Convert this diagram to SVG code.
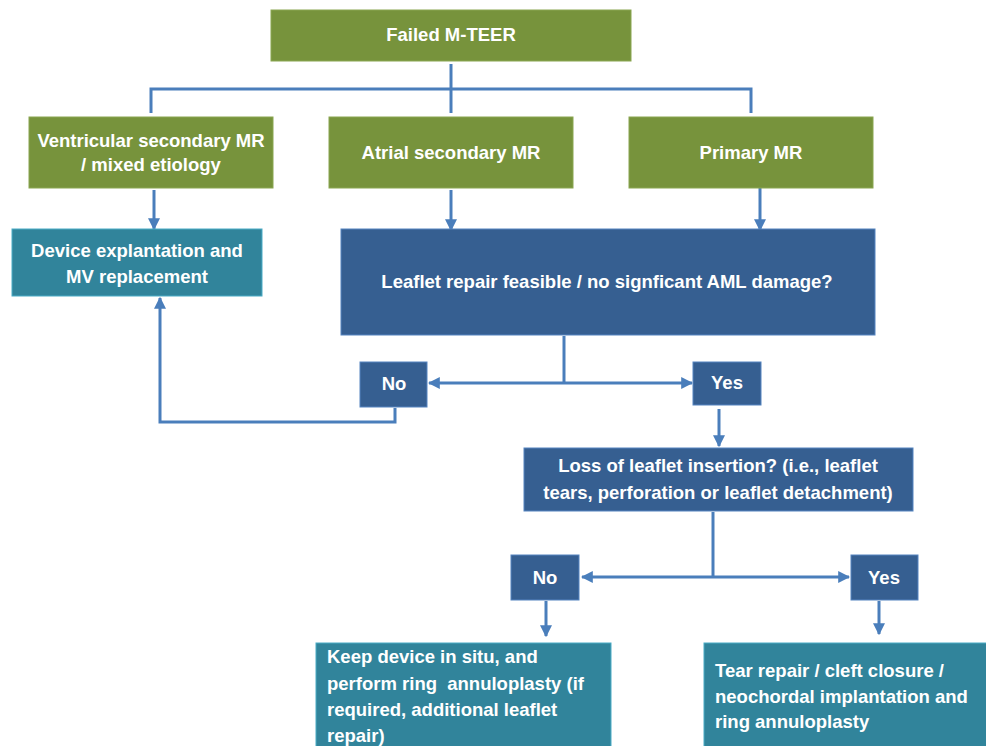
<svg xmlns="http://www.w3.org/2000/svg" width="986" height="746" viewBox="0 0 986 746">
<defs>
<marker id="ah" viewBox="0 0 10 10" refX="9" refY="5" markerWidth="4" markerHeight="4" orient="auto" markerUnits="strokeWidth">
<path d="M0,0 L10,5 L0,10 z" fill="#4A7EBB"/>
</marker>
<style>
.g{fill:#77933C;stroke:#8AA650;stroke-width:1}
.b{fill:#365F91;stroke:#5584C0;stroke-width:1}
.t{fill:#31849B;stroke:#4BACC6;stroke-width:1}
text{font-family:"Liberation Sans",Arial,sans-serif;font-weight:bold;font-size:18.5px;fill:#FFFFFF}
.c{text-anchor:middle}
.ln{fill:none;stroke:#4A7EBB;stroke-width:3}
.la{fill:none;stroke:#4A7EBB;stroke-width:3;marker-end:url(#ah)}
</style>
</defs>
<rect width="986" height="746" fill="#FFFFFF"/>
<g id="connectors">
<path class="ln" d="M451,64 V113"/>
<path class="ln" d="M151,113 V89 H751 V113"/>
<path class="la" d="M154,190 V229"/>
<path class="la" d="M451,190 V230"/>
<path class="la" d="M760,188 V230"/>
<path class="ln" d="M564,336 V383"/>
<path class="la" d="M564,383 H429"/>
<path class="la" d="M564,383 H692"/>
<path class="la" d="M395,408 V422 H160 V298"/>
<path class="la" d="M719,409 V446"/>
<path class="ln" d="M713,512 V577"/>
<path class="la" d="M713,577 H582"/>
<path class="la" d="M713,577 H849"/>
<path class="la" d="M546,601 V636"/>
<path class="la" d="M879,601 V634"/>
</g>
<g id="failed">
<rect class="g" x="271" y="10" width="360" height="51"/>
<text class="c" x="451" y="41">Failed M-TEER</text>
</g>
<g id="ventricular">
<rect class="g" x="29" y="117" width="244" height="71"/>
<text class="c" x="151" y="147">Ventricular secondary MR</text>
<text class="c" x="151" y="171">/ mixed etiology</text>
</g>
<g id="atrial">
<rect class="g" x="329" y="117" width="244" height="71"/>
<text class="c" x="451" y="159">Atrial secondary MR</text>
</g>
<g id="primary">
<rect class="g" x="629" y="117" width="244" height="71"/>
<text class="c" x="751" y="159">Primary MR</text>
</g>
<g id="device">
<rect class="t" x="12" y="229" width="250" height="67"/>
<text class="c" x="137" y="257">Device explantation and</text>
<text class="c" x="137" y="283">MV replacement</text>
</g>
<g id="leaflet">
<rect class="b" x="341" y="229" width="534" height="106"/>
<text class="c" x="607" y="288">Leaflet repair feasible / no signficant AML damage?</text>
</g>
<g id="no1">
<rect class="b" x="360" y="362" width="67" height="45"/>
<text class="c" x="394" y="390">No</text>
</g>
<g id="yes1">
<rect class="b" x="693" y="362" width="68" height="43"/>
<text class="c" x="727" y="389">Yes</text>
</g>
<g id="loss">
<rect class="b" x="524" y="448" width="389" height="63"/>
<text class="c" x="718" y="472">Loss of leaflet insertion? (i.e., leaflet</text>
<text class="c" x="718" y="499">tears, perforation or leaflet detachment)</text>
</g>
<g id="no2">
<rect class="b" x="511" y="555" width="68" height="45"/>
<text class="c" x="545" y="584">No</text>
</g>
<g id="yes2">
<rect class="b" x="851" y="555" width="67" height="45"/>
<text class="c" x="884" y="584">Yes</text>
</g>
<g id="keep">
<rect class="t" x="316" y="643" width="295" height="110"/>
<text x="327" y="663">Keep device in situ, and</text>
<text x="327" y="690">perform ring&#160; annuloplasty (if</text>
<text x="327" y="716">required, additional leaflet</text>
<text x="327" y="742">repair)</text>
</g>
<g id="tear">
<rect class="t" x="704" y="643" width="290" height="110"/>
<text x="715" y="677">Tear repair / cleft closure /</text>
<text x="715" y="703">neochordal implantation and</text>
<text x="715" y="728">ring annuloplasty</text>
</g>
</svg>
